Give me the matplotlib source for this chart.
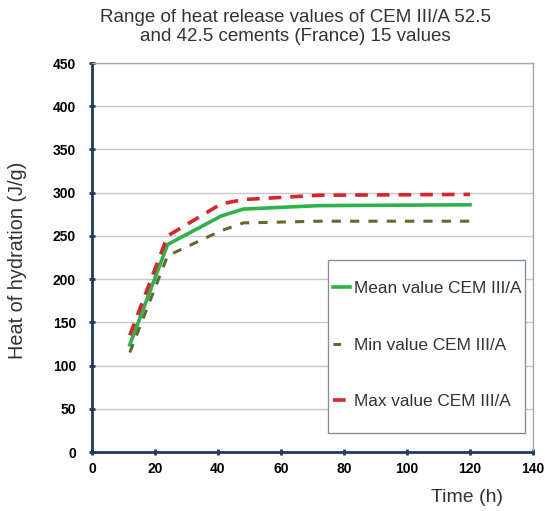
import matplotlib
matplotlib.use("Agg")
import matplotlib.pyplot as plt
from matplotlib.lines import Line2D
from matplotlib.patches import Rectangle

# Data
time_h = [12, 24, 41, 48, 72, 120]
mean_vals = [124, 240, 273, 281, 285, 286]
min_vals = [115, 227, 256, 265, 267, 267]
max_vals = [135, 250, 287, 292, 297, 298]

x_ticks = [0, 20, 40, 60, 80, 100, 120, 140]
y_ticks = [0, 50, 100, 150, 200, 250, 300, 350, 400, 450]
labels = ['Mean value CEM III/A', 'Min value CEM III/A', 'Max value CEM III/A']

c_mean, c_min, c_max = '#2db34a', '#5e6b2e', '#d9252a'

plt.rcParams['font.family'] = ['Liberation Sans', 'DejaVu Sans']

fig = plt.figure(figsize=(5.45, 5.11), dpi=100)
ax = fig.add_axes([92 / 545, 1 - 452 / 511, 441 / 545, 389 / 511])

ax.plot(time_h, mean_vals, color=c_mean, lw=2.6)
ax.plot(time_h, min_vals, color=c_min, lw=2.2, dashes=(3, 3))
ax.plot(time_h, max_vals, color=c_max, lw=2.6, dashes=(3.5, 2.5))

ax.set_xlim(0, 140)
ax.set_ylim(0, 450)
ax.set_xticks(x_ticks)
ax.set_yticks(y_ticks)
ax.yaxis.grid(True, color='#c8c8c8', lw=1)
ax.set_axisbelow(True)

for s in ['left', 'bottom']:
    ax.spines[s].set_color('#1f3a60')
    ax.spines[s].set_linewidth(2)
for s in ['top', 'right']:
    ax.spines[s].set_color('#a0a8b8')
    ax.spines[s].set_linewidth(1)

ax.tick_params(axis='both', direction='inout', length=5, width=2, color='#1f3a60', labelsize=10)
ax.tick_params(axis='y', pad=9)
ax.tick_params(axis='x', pad=5)
for lab in ax.get_xticklabels() + ax.get_yticklabels():
    lab.set_fontweight('bold')

ax.set_ylabel('Heat of hydration (J/g)', fontsize=14.3, color='#333333')
ax.yaxis.set_label_coords(-0.147, 0.494)
fig.text(503 / 545, 1 - 497 / 511, 'Time (h)', ha='right', va='center', fontsize=14, color='#333333')

fig.text(295 / 545, 1 - 27 / 511, 'Range of heat release values of CEM III/A 52.5\nand 42.5 cements (France) 15 values',
         ha='center', va='center', fontsize=13.5, color='#333333', linespacing=1.15)

# legend frame drawn separately so the horizontal padding can stay tight
ax.add_patch(Rectangle((0.535, 0.049), 0.447, 0.445, transform=ax.transAxes, fill=True,
                       facecolor='white', edgecolor='#8890a0', lw=1, zorder=4))
handles = [Line2D([], [], color=c_mean, lw=2.6),
           Line2D([], [], color=c_min, lw=2.2, dashes=(2.5, 20)),
           Line2D([], [], color=c_max, lw=2.6, dashes=(3.5, 20))]
leg = ax.legend(handles, labels, loc='upper left', bbox_to_anchor=(0.538, 0.448),
                handlelength=1.0, handletextpad=0.25, labelspacing=2.4, borderpad=0.2,
                fontsize=12.4, frameon=False, borderaxespad=0)
leg.set_zorder(5)
for t in leg.get_texts():
    t.set_color('#333333')

fig.savefig('out.png', dpi=100)
